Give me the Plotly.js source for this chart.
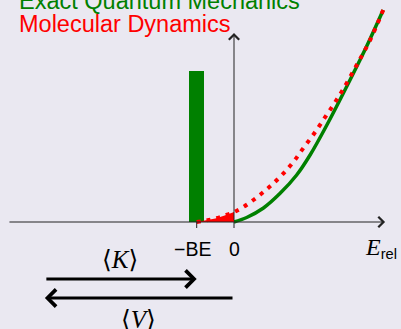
<!DOCTYPE html>
<html>
<head>
<meta charset="utf-8">
<script src="https://cdn.plot.ly/plotly-3.0.1.min.js"></script>
<style>html,body{margin:0;padding:0;background:#eae8f1;}</style>
</head>
<body>
<div id="chart" style="width:401px;height:329px;"></div>
<script>
// ---- data (energy in units where BE = 1; heights) ----
const tickVals = [-1, 0];
const tickLabels = ['\u2212BE', '0'];
const barX = [-1];
const barH = [151];
const quantumX = [0, 0.34, 0.79, 1.23, 1.68, 2.04, 2.49, 3.11, 3.56, 4.0];
const quantumY = [0, 4.5, 14, 28.4, 47, 67, 97, 142, 176, 212];
const mdFillX = [-1, -0.75, -0.5, -0.25, 0];
const mdFillY = [0, 1.5, 3.5, 6.5, 10];
const mdX = [-1, -0.75, -0.5, -0.25, 0, 0.25, 0.52, 0.79, 1.05, 1.32, 1.59, 1.86, 2.14, 2.41, 2.68, 2.93, 3.29, 3.65, 4.0];
const mdY = [0, 1.5, 3.5, 6.5, 10, 15, 22, 30, 38.4, 48.4, 60, 74, 88, 103, 118, 133, 157, 182, 212];
const seriesNames = ['Exact Quantum Mechanics', 'Molecular Dynamics'];

const GREEN = '#008000', RED = '#ff0000', AX = '#222222';

const traces = [
  {type:'bar', x:barX, y:barH, width:0.4, marker:{color:GREEN, line:{width:0}}, hoverinfo:'skip'},
  {type:'scatter', mode:'lines', x:quantumX, y:quantumY, line:{color:GREEN, width:3.5, shape:'spline', smoothing:1}, hoverinfo:'skip'},
  {type:'scatter', mode:'lines', x:mdFillX, y:mdFillY, fill:'tozeroy', fillcolor:RED, line:{width:0, color:RED}, hoverinfo:'skip'},
  {type:'scatter', mode:'lines', x:mdX, y:mdY, line:{color:RED, width:4, dash:'4px,6px', shape:'spline', smoothing:1}, hoverinfo:'skip'}
];

const xAxisEnd = [-6.06, 4.05];
const yAxisTop = 189;
const energyArrowStart = -5.07;
const annotations = [
  // axes
  {x:xAxisEnd[1], y:0, ax:xAxisEnd[0], ay:0, axref:'x', ayref:'y', text:'', showarrow:true, arrowhead:4, arrowwidth:1, arrowsize:2, arrowcolor:AX},
  {x:0, y:yAxisTop, ax:0, ay:0, axref:'x', ayref:'y', text:'', showarrow:true, arrowhead:4, arrowwidth:1, arrowsize:2, arrowcolor:AX},
  // <K> and <V> arrows
  {x:tickVals[0], y:-57, ax:energyArrowStart, ay:-57, axref:'x', ayref:'y', text:'', showarrow:true, arrowhead:4, arrowwidth:3, arrowsize:1.1, arrowcolor:'#000'},
  {x:energyArrowStart, y:-76, ax:tickVals[1], ay:-76, axref:'x', ayref:'y', text:'', showarrow:true, arrowhead:4, arrowwidth:3, arrowsize:1.1, arrowcolor:'#000'},
  // tick labels
  {x:tickVals[0], y:-27, xshift:-4, text:tickLabels[0], showarrow:false, font:{family:'Liberation Sans, Arial', size:19.5, color:'#000'}},
  {x:tickVals[1], y:-27, text:tickLabels[1], showarrow:false, font:{family:'Liberation Sans, Arial', size:19.5, color:'#000'}},
  // legend-like titles
  {x:-5.83, y:221, xanchor:'left', text:seriesNames[0], showarrow:false, font:{family:'Liberation Sans, Arial', size:23.5, color:GREEN}},
  {x:-5.83, y:198.5, xanchor:'left', text:seriesNames[1], showarrow:false, font:{family:'Liberation Sans, Arial', size:23.5, color:RED}},
  // <K>, <V>
  {x:-3.056, y:-37, text:'\u27E8<i>K</i>\u27E9', showarrow:false, font:{family:'Liberation Serif, DejaVu Serif', size:25, color:'#000'}},
  {x:-2.547, y:-97, text:'\u27E8<i>V</i>\u27E9', showarrow:false, font:{family:'Liberation Serif, DejaVu Serif', size:25, color:'#000'}},
  // E_rel
  {x:3.95, y:-26, text:"<span style='font-family:Liberation Serif;font-style:italic;font-size:24px'>E</span><sub>rel</sub>", showarrow:false, font:{family:'Liberation Sans, Arial', size:21, color:'#000'}}
];

const shapes = tickVals.map(v => ({type:'line', xref:'x', yref:'y', x0:v, x1:v, y0:0, y1:-6, line:{color:AX, width:1}}));

const layout = {
  width:401, height:329, margin:{l:0, r:0, t:0, b:0, pad:0},
  paper_bgcolor:'#eae8f1', plot_bgcolor:'#eae8f1',
  showlegend:false, bargap:0,
  xaxis:{range:[-6.273, 4.477], visible:false, fixedrange:true},
  yaxis:{range:[-107, 222], visible:false, fixedrange:true},
  annotations:annotations, shapes:shapes
};
Plotly.newPlot('chart', traces, layout, {staticPlot:true, displayModeBar:false});
</script>
</body>
</html>
